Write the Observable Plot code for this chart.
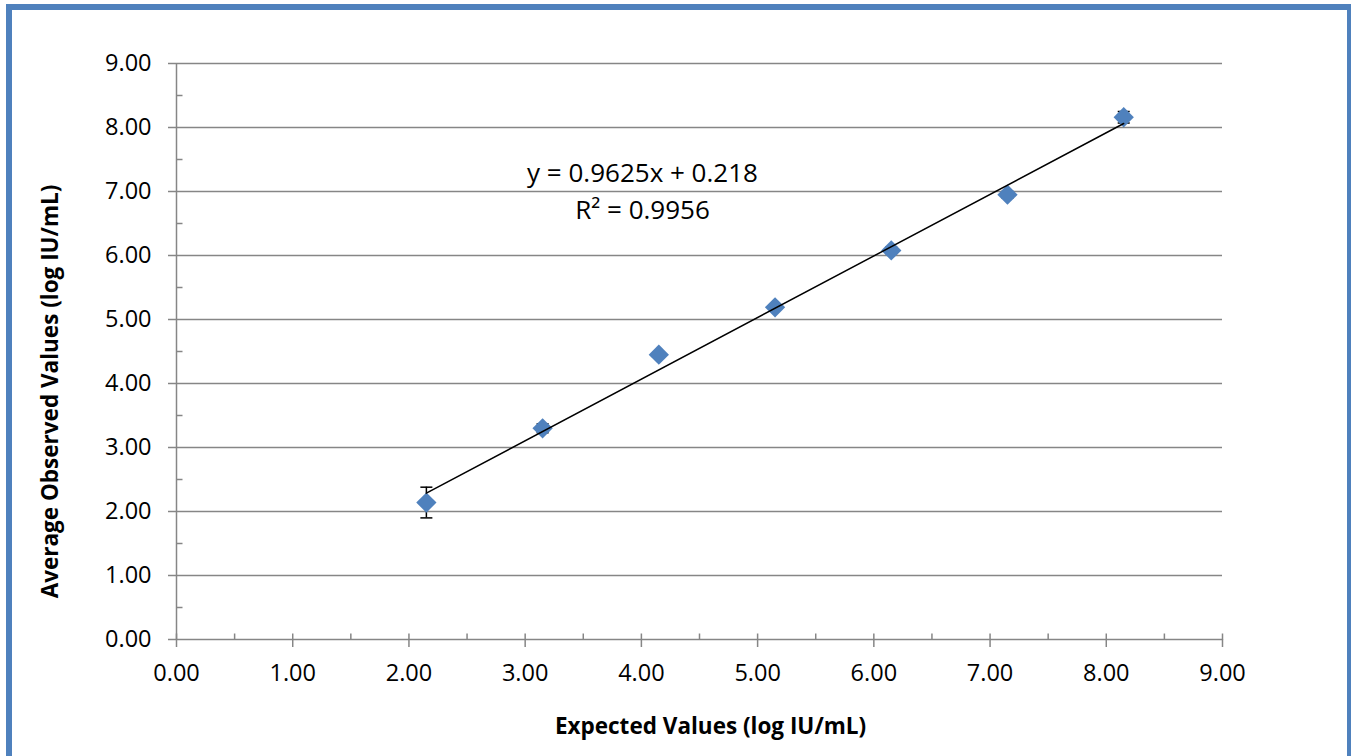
<!DOCTYPE html>
<html><head><meta charset="utf-8">
<script src="https://cdn.jsdelivr.net/npm/d3@7"></script>
<script src="https://cdn.jsdelivr.net/npm/@observablehq/plot@0.6"></script>
<style>
body{margin:0;background:#fff;overflow:hidden;}
#wrap{position:relative;width:1351px;height:756px;}
#frame{position:absolute;left:6px;top:4px;width:1335px;height:800px;border:6px solid #4F81BD;pointer-events:none;}
</style></head><body><div id="wrap"><div id="chart"></div><div id="frame"></div></div>
<script>
const expected = [2.15, 3.15, 4.15, 5.15, 6.15, 7.15, 8.15];
const observed = [2.14, 3.30, 4.45, 5.19, 6.08, 6.95, 8.16];
const errors   = [0.24, 0.07, 0.04, 0.04, 0.05, 0.05, 0.09];
const majorTicks = [0, 1, 2, 3, 4, 5, 6, 7, 8, 9];
const minorTicks = [0.5, 1.5, 2.5, 3.5, 4.5, 5.5, 6.5, 7.5, 8.5];
const gridLines = [1, 2, 3, 4, 5, 6, 7, 8, 9];
const trendSlope = 0.9625, trendIntercept = 0.218;
const trendLabel = "y = 0.9625x + 0.218\nR² = 0.9956";
const xTitle = "Expected Values (log IU/mL)";
const yTitle = "Average Observed Values (log IU/mL)";

const rows = expected.map((x, i) => ({x, y: observed[i], e: errors[i]}));
const trend = [d3.min(expected), d3.max(expected)].map(x => ({x, y: trendSlope * x + trendIntercept}));

const tickUp = {draw(c) { c.moveTo(0, 0); c.lineTo(0, -6); }};
const tickRight = {draw(c) { c.moveTo(0, 0); c.lineTo(6, 0); }};
const cap = {draw(c) { c.moveTo(-6, 0); c.lineTo(6, 0); }};
const gray = "#868686";
const font = "'Open Sans', Lato, sans-serif";

const chart = Plot.plot({
  width: 1351, height: 756,
  marginLeft: 176, marginRight: 129, marginTop: 63, marginBottom: 117,
  x: {domain: [0, 9]},
  y: {domain: [0, 9]},
  style: {fontFamily: font, fontSize: "23.5px", background: "white", color: "black"},
  marks: [
    Plot.ruleY(gridLines, {x1: 0, x2: 9, stroke: gray, strokeWidth: 1.5}),
    Plot.ruleY([0], {x1: 0, x2: 9, stroke: gray, strokeWidth: 1.5}),
    Plot.ruleX([0], {y1: 0, y2: 9, stroke: gray, strokeWidth: 1.5}),
    Plot.axisX({ticks: majorTicks, tickFormat: d => d.toFixed(2), tickSize: 8, tickPadding: 17, stroke: gray, strokeWidth: 1.5, fontSize: 23.5, label: null}),
    Plot.axisY({ticks: majorTicks, tickFormat: d => d.toFixed(2), tickSize: 8, tickPadding: 17, stroke: gray, strokeWidth: 1.5, fontSize: 23.5, label: null}),
    Plot.dot(majorTicks, {x: d => d, y: 0, symbol: tickUp, stroke: gray, fill: "none", strokeWidth: 1.5}),
    Plot.dot(minorTicks, {x: d => d, y: 0, symbol: tickUp, stroke: gray, fill: "none", strokeWidth: 1.5}),
    Plot.dot(minorTicks, {x: 0, y: d => d, symbol: tickRight, stroke: gray, fill: "none", strokeWidth: 1.5}),
    Plot.ruleX(rows, {x: "x", y1: d => d.y - d.e, y2: d => d.y + d.e, stroke: "black", strokeWidth: 1.5}),
    Plot.dot(rows, {x: "x", y: d => d.y + d.e, symbol: cap, stroke: "black", fill: "none", strokeWidth: 1.5}),
    Plot.dot(rows, {x: "x", y: d => d.y - d.e, symbol: cap, stroke: "black", fill: "none", strokeWidth: 1.5}),
    Plot.dot(rows, {x: "x", y: "y", symbol: "square", r: 8.1, rotate: 45, fill: "#4F81BD", stroke: "none"}),
    Plot.line(trend, {x: "x", y: "y", stroke: "black", strokeWidth: 1.5}),
    Plot.text([trendLabel], {frameAnchor: "top-left", dx: 466, dy: 125, text: d => d, fontSize: 26, lineHeight: 1.42, textAnchor: "middle", lineAnchor: "middle", fill: "black"}),
    Plot.text([xTitle], {frameAnchor: "bottom", dx: 11, dy: 87, text: d => d, fontSize: 22.5, fontWeight: "bold", textAnchor: "middle", lineAnchor: "middle", fill: "black"}),
    Plot.text([yTitle], {frameAnchor: "left", dx: -126, dy: 40, text: d => d, fontSize: 22.5, fontWeight: "bold", rotate: -90, textAnchor: "middle", lineAnchor: "middle", fill: "black"})
  ]
});
document.getElementById("chart").appendChild(chart);
</script></body></html>
